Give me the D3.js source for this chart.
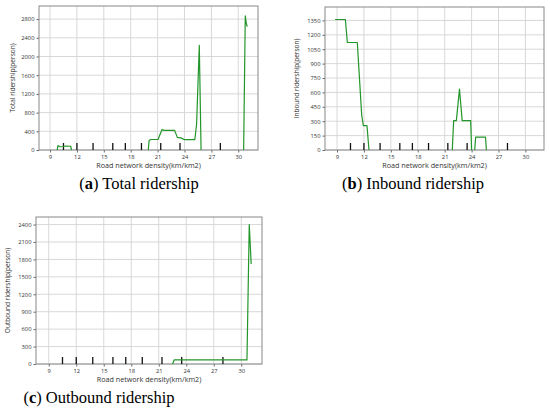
<!DOCTYPE html>
<html><head><meta charset="utf-8">
<script src="https://cdn.jsdelivr.net/npm/d3@7"></script>
<style>body{margin:0;background:#fff}svg{display:block}</style>
</head><body>
<svg id="c" width="550" height="412"></svg>
<script>
const xTicks = [9,12,15,18,21,24,27,30];
const rugX = [10.5,12,13.8,16,17.4,19.2,21.35,23.5,28];

const totalX = [9.8,9.88,10.1,10.5,10.7,11.3,11.4,null,19.96,20.05,20.2,21.05,21.2,21.5,21.7,22.9,23.2,23.6,24.0,25.15,25.35,25.65,25.85,null,30.6,30.78,30.9,31.0];
const totalY = [0,95,70,75,85,80,0,null,0,200,225,225,300,440,420,420,270,260,220,220,550,2240,0,null,0,2870,2700,2640];
const totalTicks = [0,400,800,1200,1600,2000,2400,2800];

const inboundX = [8.78,9.93,10.15,11.26,11.75,11.93,12.34,12.56,null,21.85,22.0,22.3,22.65,22.95,23.9,24.0,null,24.35,24.45,25.55,25.65];
const inboundY = [1360,1360,1120,1120,365,255,255,0,null,0,306,306,634,306,306,0,null,0,135,135,0];
const inboundTicks = [0,150,300,450,600,750,900,1050,1200,1350];

const outboundX = [22.5,22.68,30.62,30.87,31.08];
const outboundY = [0,70,70,2400,1720];
const outboundTicks = [0,300,600,900,1200,1500,1800,2100,2400];

const svg = d3.select('#c');
const sans = "'Open Sans', 'Noto Sans', sans-serif";
const serif = "'Liberation Serif', 'DejaVu Serif', serif";

function panel(o){
  const g = svg.append('g');
  const x = d3.scaleLinear().domain(o.xd).range([o.l, o.r]);
  const y = d3.scaleLinear().domain(o.yd).range([o.b, o.t]);
  g.selectAll('.gx').data(xTicks).join('line')
    .attr('x1', d=>x(d)).attr('x2', d=>x(d)).attr('y1', o.t).attr('y2', o.b)
    .attr('stroke', '#d4d4d4').attr('stroke-width', 0.9);
  g.selectAll('.gy').data(o.yt).join('line')
    .attr('y1', d=>y(d)).attr('y2', d=>y(d)).attr('x1', o.l).attr('x2', o.r)
    .attr('stroke', '#d4d4d4').attr('stroke-width', 0.9);
  const ax = g.append('g').attr('transform', `translate(0,${o.b})`)
    .call(d3.axisBottom(x).tickValues(xTicks).tickSize(2.5).tickPadding(2).tickFormat(d3.format('d')));
  const ay = g.append('g').attr('transform', `translate(${o.l},0)`)
    .call(d3.axisLeft(y).tickValues(o.yt).tickSize(2.5).tickPadding(2).tickFormat(d3.format('d')));
  [ax, ay].forEach(a => {
    a.select('.domain').remove();
    a.selectAll('line').attr('stroke', '#666');
    a.selectAll('text').attr('font-family', sans).attr('font-size', 5.8).attr('fill', '#333');
  });
  g.append('rect').attr('x', o.l).attr('y', o.t).attr('width', o.r-o.l).attr('height', o.b-o.t)
    .attr('fill', 'none').attr('stroke', '#888').attr('stroke-width', 1);
  g.selectAll('.rug').data(rugX).join('line')
    .attr('x1', d=>x(d)).attr('x2', d=>x(d)).attr('y1', o.b).attr('y2', o.b-7)
    .attr('stroke', '#111').attr('stroke-width', 1.3);
  const pts = o.xs.map((v,i)=>[v, o.ys[i]]);
  const line = d3.line().defined(d=>d[0]!==null).x(d=>x(d[0])).y(d=>y(d[1]));
  g.append('path').attr('d', line(pts)).attr('fill','none')
    .attr('stroke', '#22962a').attr('stroke-width', 1.2).attr('stroke-linejoin','round');
  g.append('text').attr('x', (o.l+o.r)/2).attr('y', o.b+18)
    .attr('text-anchor','middle').attr('font-family', sans).attr('font-size', 7.2).attr('fill','#333')
    .text('Road network density(km/km2)');
  g.append('text').attr('transform', `translate(${o.ylx},${(o.t+o.b)/2}) rotate(-90)`)
    .attr('text-anchor','middle').attr('font-family', sans).attr('font-size', 6.5).attr('fill','#333')
    .text(o.ylab);
  const cap = g.append('text').attr('x', o.cx).attr('y', o.cy).attr('text-anchor','middle')
    .attr('font-family', serif).attr('font-size', 16.5).attr('fill', '#000');
  cap.append('tspan').text('(');
  cap.append('tspan').attr('font-weight','bold').text(o.letter);
  cap.append('tspan').text(') ' + o.cap);
}

panel({l:39, r:258, t:6, b:150, xd:[7.77,32.2], yd:[0,3080], yt: totalTicks,
  xs: totalX, ys: totalY, ylab:'Total ridership(person)', ylx:15,
  cx:139, cy:189, letter:'a', cap:'Total ridership'});
panel({l:325, r:544, t:7, b:150, xd:[7.66,32.07], yd:[0,1490], yt: inboundTicks,
  xs: inboundX, ys: inboundY, ylab:'Inbound ridership(person)', ylx:299,
  cx:413, cy:189, letter:'b', cap:'Inbound ridership'});
panel({l:36, r:262, t:217, b:364, xd:[7.61,32.26], yd:[0,2530], yt: outboundTicks,
  xs: outboundX, ys: outboundY, ylab:'Outbound ridership(person)', ylx:10,
  cx:99, cy:403, letter:'c', cap:'Outbound ridership'});
</script>
</body></html>
